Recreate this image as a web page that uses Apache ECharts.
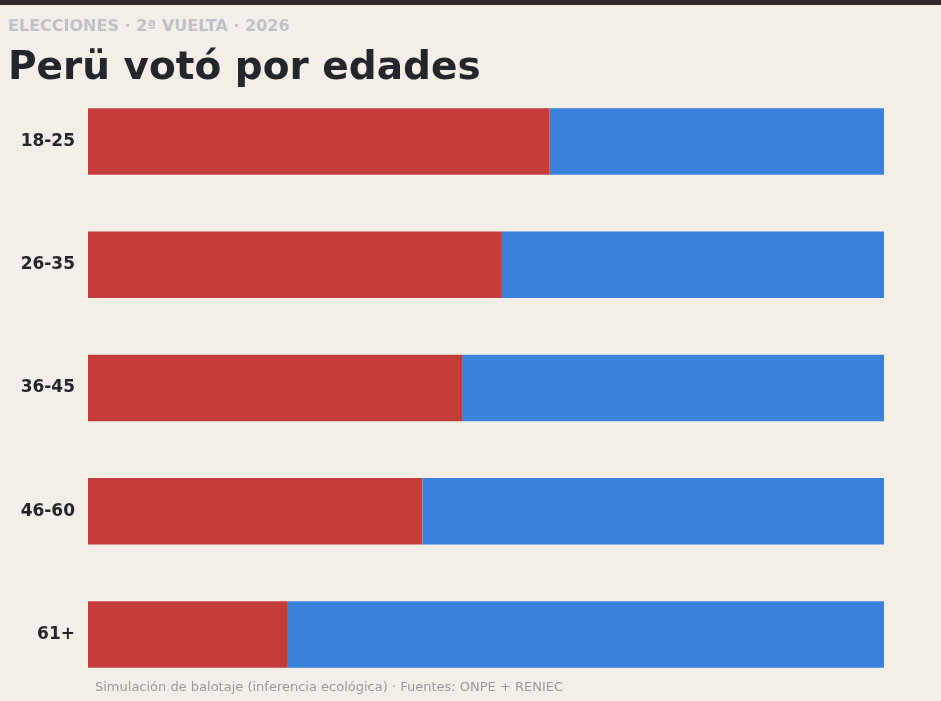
<!DOCTYPE html>
<html>
<head>
<meta charset="utf-8">
<script src="https://cdn.jsdelivr.net/npm/echarts@6/dist/echarts.min.js"></script>
<style>
  html, body { margin: 0; padding: 0; background: #f3efe8; }
  #chart { width: 941px; height: 701px; }
</style>
</head>
<body>
<div id="chart"></div>
<script>
// rangos de edad y reparto del voto (%)
const ageGroups = ['18-25', '26-35', '36-45', '46-60', '61+']
const redShare = [58, 52, 47, 42, 25]
const blueShare = [42, 48, 53, 58, 75]

const chart = echarts.init(document.getElementById('chart'))

chart.setOption({
  backgroundColor: '#f3efe8',
  animation: false,
  textStyle: { fontFamily: 'DejaVu Sans' },
  title: [
    {
      text: 'ELECCIONES · 2ª VUELTA · 2026',
      left: 3, top: 14,
      textStyle: { fontSize: 16, fontWeight: 'bold', color: '#bfc2c8', fontFamily: 'DejaVu Sans' },
    },
    {
      text: 'Perü votó por edades',
      left: 3, top: 44,
      textStyle: { fontSize: 39, fontWeight: 'bold', color: '#23262b', fontFamily: 'DejaVu Sans' },
    },
    {
      text: 'Simulación de balotaje (inferencia ecológica) · Fuentes: ONPE + RENIEC',
      left: 90, top: 676,
      textStyle: { fontSize: 13, fontWeight: 'normal', color: '#9a9a9a', fontFamily: 'DejaVu Sans' },
    },
  ],
  graphic: [
    { type: 'rect', left: 0, top: 0, shape: { width: 941, height: 5 }, style: { fill: '#33272a' } },
  ],
  grid: { left: 88, right: 57, top: 80, bottom: 5 },
  xAxis: {
    type: 'value',
    min: 0,
    max: 100,
    show: false,
  },
  yAxis: {
    type: 'category',
    inverse: true,
    data: ageGroups,
    axisLine: { show: false },
    axisTick: { show: false },
    axisLabel: { fontSize: 17, fontWeight: 'bold', color: '#23262b', margin: 13 },
  },
  series: [
    {
      name: 'rojo',
      type: 'bar',
      stack: 'total',
      data: redShare,
      barWidth: '54%',
      itemStyle: { color: '#c43d3a' },
    },
    {
      name: 'azul',
      type: 'bar',
      stack: 'total',
      data: blueShare,
      barWidth: '54%',
      itemStyle: { color: '#3a81db' },
    },
  ],
})
</script>
</body>
</html>
